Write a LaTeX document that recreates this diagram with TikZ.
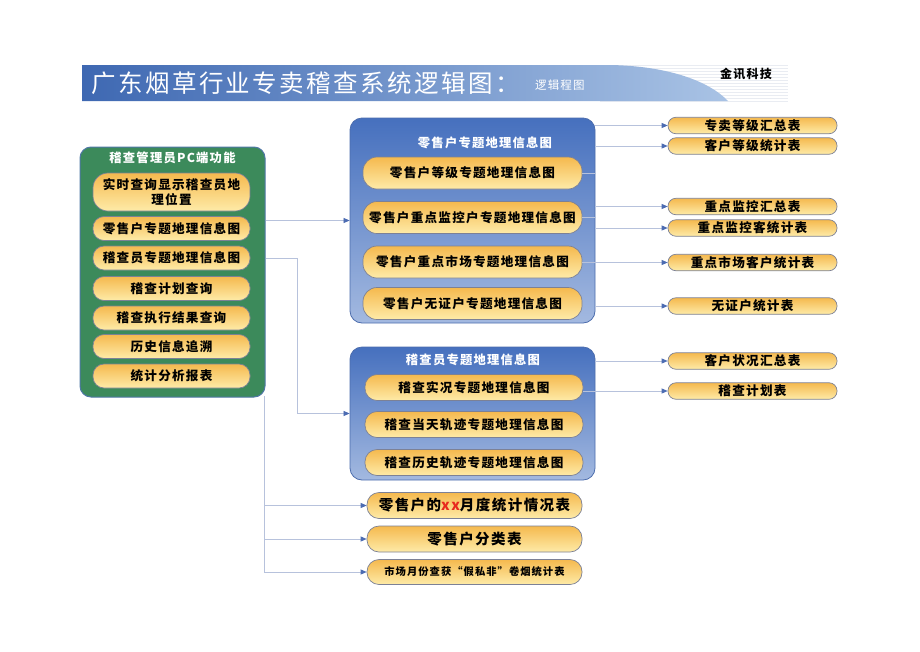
\documentclass[tikz,border=0pt]{standalone}
\usepackage{fontspec}
\setmainfont[LetterSpace=10]{Noto Sans CJK SC}
\usetikzlibrary{arrows.meta}
\definecolor{pilltop}{HTML}{F5B94E}
\definecolor{pillmid}{HTML}{FBD681}
\definecolor{pillbot}{HTML}{FEEBA8}
\definecolor{pillline}{HTML}{7C8196}
\definecolor{boxtop}{HTML}{4670BE}
\definecolor{boxbot}{HTML}{A3B9E0}
\definecolor{boxline}{HTML}{4C6DAD}
\definecolor{panelgreen}{HTML}{3C8A5B}
\definecolor{panelline}{HTML}{4F77A6}
\definecolor{connline}{HTML}{B7C2DC}
\definecolor{tipblue}{HTML}{4C6CB2}
\definecolor{bannerL}{HTML}{3E68B2}
\definecolor{bannerR}{HTML}{A9C3E5}
\definecolor{stripe}{HTML}{E9ECF2}
\definecolor{xxred}{HTML}{E8281E}
\tikzset{
  pill/.style={draw=pillline, line width=0.7pt, top color=pilltop, middle color=pillmid, bottom color=pillbot,
    inner sep=0pt, align=center, font=\bfseries\fontsize{12.6}{15.5}\selectfont},
  bluebox/.style={draw=boxline, line width=0.8pt, top color=boxtop, bottom color=boxbot, rounded corners=12pt, inner sep=0pt},
  conn/.style={draw=connline, line width=0.7pt},
  arr/.style={conn, -{Triangle[length=6pt,width=5pt,color=tipblue,fill=tipblue]}},
  boxtitle/.style={text=white, font=\bfseries\fontsize{12.3}{14}\selectfont},
}
\begin{document}
\begin{tikzpicture}[x=1pt,y=-1pt]
\useasboundingbox[fill=white] (0,0) rectangle (920,651);

% ---------- title banner ----------
\foreach \yy in {65,68,...,101} \draw[stripe, line width=0.6pt] (600,\yy) -- (788,\yy);
\shade[left color=bannerL, right color=bannerR]
  (82,65) -- (610,65) .. controls (670,66) and (710,82) .. (728,101) -- (82,101) -- cycle;
\node[anchor=west, text=white, font=\fontsize{24.5}{28}\selectfont, inner sep=0pt] (title) at (91,83) {广东烟草行业专卖稽查系统逻辑图：};
\node[anchor=west, text=white, font=\fontsize{11.5}{13}\selectfont, inner sep=0pt] (subtitle) at (535,85) {逻辑程图};
\node[anchor=west, font=\bfseries\fontsize{12}{14}\selectfont, inner sep=0pt] (brand) at (720,74) {金讯科技};

% ---------- left panel ----------
\node[draw=panelline, line width=1pt, fill=panelgreen, rounded corners=11pt,
      minimum width=185pt, minimum height=250pt, inner sep=0pt] (lp) at (172.5,272) {};
\node[boxtitle] (lpt) at (172.5,158) {稽查管理员PC端功能};
\node[pill, minimum width=157pt, minimum height=38pt, rounded corners=15pt, text width=150pt] (l1) at (171.5,192) {实时查询显示稽查员地\\理位置};
\node[pill, minimum width=157pt, minimum height=24pt, rounded corners=11pt] (l2) at (171.5,228.5) {零售户专题地理信息图};
\node[pill, minimum width=157pt, minimum height=24pt, rounded corners=11pt] (l3) at (171.5,258) {稽查员专题地理信息图};
\node[pill, minimum width=157pt, minimum height=24pt, rounded corners=11pt] (l4) at (171.5,288.5) {稽查计划查询};
\node[pill, minimum width=157pt, minimum height=24pt, rounded corners=11pt] (l5) at (171.5,318) {稽查执行结果查询};
\node[pill, minimum width=157pt, minimum height=24pt, rounded corners=11pt] (l6) at (171.5,346.5) {历史信息追溯};
\node[pill, minimum width=157pt, minimum height=24pt, rounded corners=11pt] (l7) at (171.5,376) {统计分析报表};

% ---------- blue box 1 ----------
\node[bluebox, minimum width=245pt, minimum height=205pt] (bx1) at (472.5,220.5) {};
\node[boxtitle] (bx1t) at (485,143) {零售户专题地理信息图};
\node[pill, minimum width=219pt, minimum height=32pt, rounded corners=14pt] (i1) at (472.5,173) {零售户等级专题地理信息图};
\node[pill, minimum width=219pt, minimum height=32pt, rounded corners=14pt] (i2) at (472.5,217.5) {零售户重点监控户专题地理信息图};
\node[pill, minimum width=219pt, minimum height=32pt, rounded corners=14pt] (i3) at (472.5,262) {零售户重点市场专题地理信息图};
\node[pill, minimum width=219pt, minimum height=32pt, rounded corners=14pt] (i4) at (472.5,303.5) {零售户无证户专题地理信息图};

% ---------- blue box 2 ----------
\node[bluebox, minimum width=245pt, minimum height=133pt] (bx2) at (472.5,413.5) {};
\node[boxtitle] (bx2t) at (473,360) {稽查员专题地理信息图};
\node[pill, minimum width=218pt, minimum height=26pt, rounded corners=12pt] (j1) at (474,387.5) {稽查实况专题地理信息图};
\node[pill, minimum width=218pt, minimum height=26pt, rounded corners=12pt] (j2) at (474,424.5) {稽查当天轨迹专题地理信息图};
\node[pill, minimum width=218pt, minimum height=26pt, rounded corners=12pt] (j3) at (474,462.5) {稽查历史轨迹专题地理信息图};

% ---------- right report boxes ----------
\foreach \n/\yy/\t in {r1/125.5/专卖等级汇总表, r2/146/客户等级统计表, r3/206.5/重点监控汇总表,
    r4/228/重点监控客统计表, r5/262.5/重点市场客户统计表, r6/306/无证户统计表,
    r7/361/客户状况汇总表, r8/391/稽查计划表}
  \node[pill, minimum width=169pt, minimum height=16.5pt, rounded corners=8pt] (\n) at (752.5,\yy) {\t};

% ---------- bottom report boxes ----------
\node[pill, minimum width=215pt, minimum height=26pt, rounded corners=12pt, font=\bfseries\fontsize{14.5}{16}\selectfont] (b1) at (474.5,505.5) {零售户的\textcolor{xxred}{xx}月度统计情况表};
\node[pill, minimum width=215pt, minimum height=26pt, rounded corners=12pt, font=\bfseries\fontsize{14.5}{16}\selectfont] (b2) at (474.5,539) {零售户分类表};
\node[pill, minimum width=215pt, minimum height=25pt, rounded corners=12pt, font=\bfseries\fontsize{10.3}{12}\selectfont] (b3) at (474.5,572) {市场月份查获“假私非”卷烟统计表};

% ---------- connectors ----------
\coordinate (lpr) at (264.5,396);
\draw[arr] (lp.east |- bx1.west) -- (bx1.west);
\coordinate (step) at (297,258);
\draw[conn] (lp.east |- l3) -- (step);
\draw[arr] (step) |- (bx2.west);
\draw[arr] (lpr) |- (b1.west);
\draw[arr] (lpr) |- (b2.west);
\draw[arr] (lpr) |- (b3.west);

\draw[conn] (i1.east) -- (bx1.east |- i1);
\draw[conn] (i2.east) -- (bx1.east |- i2);
\foreach \r in {r1,r2,r3,r4,r6} \draw[arr] (bx1.east |- \r) -- (\r.west);
\draw[arr] (i3.east |- r5) -- (r5.west);
\draw[arr] (bx2.east |- r7) -- (r7.west);
\draw[arr] (j1.east |- r8) -- (r8.west);
\end{tikzpicture}
\end{document}
